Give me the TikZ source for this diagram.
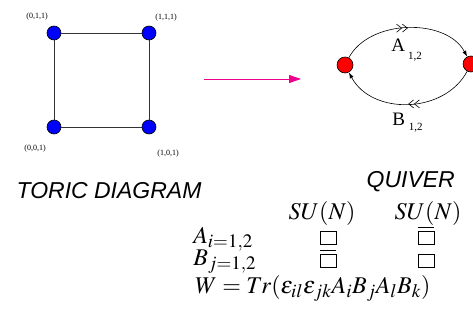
\documentclass[tikz,border=0pt]{standalone}
\usepackage{mathptmx}
\usepackage[no-math]{fontspec}
\setmainfont{Liberation Serif}
\setsansfont{Liberation Sans}
\usepackage{tikz}
\usetikzlibrary{arrows.meta,decorations.markings}
\DeclareMathSizes{24}{24}{19}{14}

\tikzset{
  toric/.style={circle, draw=black, fill=blue, inner sep=0pt, minimum size=14pt},
  quiv/.style={circle, draw=black, fill=red, inner sep=0pt, minimum size=16pt},
  coord/.style={font=\fontsize{8}{8}\selectfont},
  title/.style={font=\fontsize{23}{23}\selectfont\sffamily\itshape, anchor=base west},
  tab/.style={font=\fontsize{24}{24}\selectfont, anchor=base west, inner sep=0pt},
  yng/.style={draw, line width=0.6pt, minimum width=16pt, minimum height=13pt, inner sep=0pt},
  dbl/.style={postaction={decorate, decoration={markings,
    mark=at position 0.5 with {\arrow{Straight Barb[length=5pt,width=8pt] Straight Barb[length=5pt,width=8pt]}}}}}
}

\begin{document}
\begin{tikzpicture}[x=1pt, y=-1pt, line width=0.6pt]
\useasboundingbox (0,0) rectangle (473,332);

% toric diagram
\node[toric] (v011) at (54,33) {};
\node[toric] (v111) at (149,33) {};
\node[toric] (v001) at (54,127) {};
\node[toric] (v101) at (149,127) {};
\draw[black!80] (v011) -- (v111) -- (v101) -- (v001) -- (v011);
\node[coord] (l011) at (37,17) {(0,1,1)};
\node[coord] (l111) at (166,18) {(1,1,1)};
\node[coord] (l001) at (35,149) {(0,0,1)};
\node[coord] (l101) at (168,154) {(1,0,1)};
\node[title] (ttoric) at (13,198) {TORIC DIAGRAM};

% arrow
\coordinate (ar0) at (204,79);
\coordinate (ar1) at (301,79);
\draw[magenta, line width=1pt, -{Triangle[length=12pt,width=8pt]}] (ar0) -- (ar1);

% quiver
\node[quiv] (g1) at (345,65) {};
\node[quiv] (g2) at (471,64) {};
\draw[dbl, -{Latex[length=6pt,width=4pt]}] (g1) to[out=62, in=118, looseness=0.95] (g2);
\draw[dbl, -{Latex[length=6pt,width=4pt]}] (g2) to[out=-118, in=-62, looseness=1.05] (g1);
\node[anchor=base west, inner sep=0pt] (la) at (391,51)
  {\fontsize{19}{19}\selectfont A\kern3pt\raisebox{-8pt}{\fontsize{11}{11}\selectfont 1,2}};
\node[anchor=base west, inner sep=0pt] (lb) at (392,125)
  {\fontsize{19}{19}\selectfont B\kern4pt\raisebox{-5pt}{\fontsize{11}{11}\selectfont 1,2}};
\node[title] (tquiv) at (363,187) {QUIVER};

% matter content
\node[tab, anchor=base] (su1) at (322,219) {$SU(N)$};
\node[tab, anchor=base] (su2) at (428,219) {$SU(N)$};
\node[tab] (ra) at (193,243) {$A_{i=1,2}$};
\node[tab] (rb) at (193,265) {$B_{j=1,2}$};
\node[yng] (a1) at (328,238) {};
\node[yng] (a2) at (426,238) {};
\node[yng] (b1) at (328,261) {};
\node[yng] (b2) at (426,261) {};
\draw (a2.north west) ++(0,-4) -- ++(16,0);
\draw (b1.north west) ++(0,-4) -- ++(16,0);
\node[tab] (sup) at (195,293) {$W=Tr(\epsilon_{il}\epsilon_{jk}A_iB_jA_lB_k)$};
\end{tikzpicture}
\end{document}
